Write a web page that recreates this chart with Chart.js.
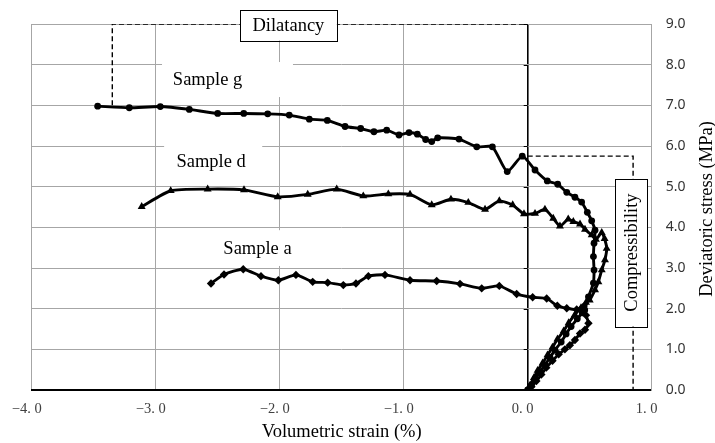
<!DOCTYPE html>
<html><head><meta charset="utf-8">
<script src="https://cdn.jsdelivr.net/npm/chart.js@4.4.1/dist/chart.umd.min.js"></script>
<style>html,body{margin:0;padding:0;background:#fff}</style>
</head><body>
<canvas id="c" width="715" height="443"></canvas>
<script>
// ---- data ----
const xTickValues = [-4, -3, -2, -1, 0, 1];
const yTickValues = [0, 1, 2, 3, 4, 5, 6, 7, 8, 9];
const xAxisTitle = "Volumetric strain (%)";
const yAxisTitle = "Deviatoric stress (MPa)";
const seriesNames = ["Sample g", "Sample d", "Sample a"];

const sampleG_x = [0,0.03,0.06,0.10,0.14,0.18,0.22,0.27,0.31,0.35,0.40,0.44,0.46,0.49,0.53,0.535,0.53,0.535,0.543,0.516,0.481,0.435,0.381,0.315,0.242,0.158,0.059,-0.044,-0.165,-0.285,-0.411,-0.554,-0.726,-0.774,-0.823,-0.890,-0.957,-1.038,-1.137,-1.240,-1.347,-1.473,-1.616,-1.761,-1.923,-2.097,-2.290,-2.500,-2.729,-2.963,-3.213,-3.468];
const sampleG_y = [0,0.12,0.28,0.45,0.62,0.80,0.98,1.18,1.38,1.56,1.75,1.90,1.97,2.29,2.63,2.95,3.28,3.61,3.93,4.16,4.37,4.62,4.74,4.86,5.06,5.14,5.41,5.75,5.37,5.98,5.98,6.17,6.20,6.11,6.16,6.29,6.33,6.27,6.39,6.35,6.43,6.48,6.63,6.66,6.76,6.79,6.80,6.80,6.90,6.97,6.94,6.98];

const sampleD_x = [0,0.02,0.05,0.08,0.12,0.16,0.20,0.24,0.29,0.33,0.38,0.43,0.47,0.50,0.543,0.57,0.597,0.623,0.637,0.62,0.597,0.55,0.516,0.462,0.422,0.368,0.327,0.260,0.206,0.139,0.059,-0.030,-0.121,-0.229,-0.344,-0.479,-0.619,-0.774,-0.949,-1.124,-1.326,-1.540,-1.774,-2.016,-2.288,-2.581,-2.879,-3.113];
const sampleD_y = [0,0.12,0.30,0.48,0.66,0.86,1.05,1.25,1.45,1.65,1.85,2.02,2.15,2.21,2.46,2.66,2.95,3.20,3.48,3.72,3.87,3.70,3.81,3.95,4.08,4.14,4.20,4.03,4.22,4.44,4.34,4.33,4.55,4.65,4.44,4.61,4.69,4.55,4.81,4.82,4.77,4.94,4.81,4.75,4.92,4.94,4.90,4.51];

const sampleA_x = [0,0.03,0.07,0.11,0.15,0.20,0.25,0.30,0.34,0.381,0.422,0.462,0.49,0.47,0.449,0.395,0.315,0.239,0.153,0.040,-0.089,-0.229,-0.371,-0.546,-0.734,-0.949,-1.151,-1.285,-1.385,-1.487,-1.613,-1.734,-1.869,-2.011,-2.151,-2.294,-2.449,-2.554];
const sampleA_y = [0,0.08,0.22,0.38,0.55,0.72,0.88,1.00,1.10,1.23,1.39,1.48,1.64,1.84,2.05,1.98,2.01,2.07,2.25,2.28,2.36,2.56,2.50,2.61,2.68,2.70,2.83,2.80,2.62,2.58,2.64,2.66,2.83,2.70,2.80,2.97,2.84,2.62];

// dashed guide lines (annotation), in data units
const dilatancyGuide_x = [-3.35, -3.35, 0];
const dilatancyGuide_y = [7.0, 9.0, 9.0];
const compressGuide_x = [0, 0.85, 0.85];
const compressGuide_y = [5.75, 5.75, 0];

const zip = (xs, ys) => xs.map((x, i) => ({x, y: ys[i]}));

const SERIF = "'Liberation Serif', 'Times New Roman', serif";

const annot = {
  id: 'annot',
  beforeDatasetsDraw(chart) {
    const {ctx, scales: {x, y}} = chart;
    ctx.save();
    const labels = [
      {t: seriesNames[0], tx: -2.582, ty: 7.62, r: [-2.949, 8.065, -1.893, 7.204]},
      {t: seriesNames[1], tx: -2.553, ty: 5.61, r: [-2.932, 6.07, -2.141, 5.16]},
      {t: seriesNames[2], tx: -2.179, ty: 3.46, r: [-2.522, 3.93, -1.835, 3.05]},
    ];
    for (const l of labels) {
      const x0 = x.getPixelForValue(l.r[0]), y0 = y.getPixelForValue(l.r[1]);
      const x1 = x.getPixelForValue(l.r[2]), y1 = y.getPixelForValue(l.r[3]);
      ctx.fillStyle = '#fff';
      ctx.fillRect(x0, y0, x1 - x0, y1 - y0);
    }
    ctx.fillStyle = '#000';
    ctx.font = "18.5px " + SERIF;
    ctx.textAlign = 'center';
    ctx.textBaseline = 'middle';
    for (const l of labels) {
      ctx.fillText(l.t, x.getPixelForValue(l.tx), y.getPixelForValue(l.ty));
    }
    const x0p = x.getPixelForValue(0);
    ctx.strokeStyle = '#000';
    ctx.lineWidth = 1;
    for (const v of yTickValues) {
      const py = Math.round(y.getPixelForValue(v)) + 0.5;
      ctx.beginPath(); ctx.moveTo(x0p - 4, py); ctx.lineTo(x0p, py); ctx.stroke();
    }
    ctx.restore();
  },
  afterDatasetsDraw(chart) {
    const {ctx, scales: {x, y}} = chart;
    ctx.save();
    let cx = x.getPixelForValue(-1.93), cy = y.getPixelForValue(9.0) + 1;
    let w = 97, h = 31;
    ctx.fillStyle = '#fff';
    ctx.fillRect(cx - w/2, cy - h/2, w, h);
    ctx.strokeStyle = '#000'; ctx.lineWidth = 1;
    ctx.strokeRect(Math.round(cx - w/2) + 0.5, Math.round(cy - h/2) + 0.5, w, h);
    ctx.fillStyle = '#000';
    ctx.font = "18.5px " + SERIF;
    ctx.textAlign = 'center'; ctx.textBaseline = 'middle';
    ctx.fillText('Dilatancy', cx, cy + 1);
    cx = x.getPixelForValue(0.834); cy = y.getPixelForValue(3.38);
    w = 32; h = 148;
    ctx.fillStyle = '#fff';
    ctx.fillRect(cx - w/2, cy - h/2, w, h);
    ctx.strokeRect(Math.round(cx - w/2) + 0.5, Math.round(cy - h/2) + 0.5, w, h);
    ctx.translate(cx + 1, cy);
    ctx.rotate(-Math.PI / 2);
    ctx.fillStyle = '#000';
    ctx.fillText('Compressibility', 0, 0);
    ctx.restore();
  },
  afterDraw(chart) {
    const {ctx, chartArea} = chart;
    ctx.save();
    ctx.translate(707, (chartArea.top + chartArea.bottom) / 2 + 2);
    ctx.rotate(-Math.PI / 2);
    ctx.fillStyle = '#000';
    ctx.font = "18.5px " + SERIF;
    ctx.textAlign = 'center'; ctx.textBaseline = 'middle';
    ctx.fillText(yAxisTitle, 0, 0);
    ctx.restore();
  }
};

const lineCommon = {
  showLine: true, borderColor: '#000', backgroundColor: '#000',
  borderWidth: 2.9, tension: 0.2, pointBorderWidth: 0
};

new Chart(document.getElementById('c'), {
  type: 'scatter',
  data: {
    datasets: [
      Object.assign({label: seriesNames[0], data: zip(sampleG_x, sampleG_y), pointStyle: 'circle', pointRadius: 3.4}, lineCommon),
      Object.assign({label: seriesNames[1], data: zip(sampleD_x, sampleD_y), pointStyle: 'triangle', pointRadius: 4.6}, lineCommon),
      Object.assign({label: seriesNames[2], data: zip(sampleA_x, sampleA_y), pointStyle: 'rectRot', pointRadius: 4.2}, lineCommon),
      {label: 'dil', data: zip(dilatancyGuide_x, dilatancyGuide_y), showLine: true, borderColor: '#000', borderWidth: 1.4, borderDash: [5, 3], pointRadius: 0, tension: 0},
      {label: 'comp', data: zip(compressGuide_x, compressGuide_y), showLine: true, borderColor: '#000', borderWidth: 1.4, borderDash: [5, 3], pointRadius: 0, tension: 0}
    ]
  },
  options: {
    responsive: false,
    animation: false,
    devicePixelRatio: 1,
    layout: {padding: {left: 31.7, top: 24, right: 0, bottom: 0}},
    plugins: {legend: {display: false}, tooltip: {enabled: false}},
    scales: {
      x: {
        type: 'linear', min: -4, max: 1,
        afterFit(s) { s.height = 53; },
        afterBuildTicks(s) { s.ticks = xTickValues.map(v => ({value: v})); },
        ticks: {
          color: '#404040', padding: 10, labelOffset: -5, maxRotation: 0,
          font: {family: SERIF, size: 14.5},
          callback: v => (v < 0 ? '\u2212' : '') + Math.abs(v).toFixed(0) + '. 0'
        },
        grid: {
          drawTicks: false,
          color: c => (c.tick && c.tick.value === 0) ? '#000' : '#a6a6a6',
          lineWidth: c => (c.tick && c.tick.value === 0) ? 1.6 : 1
        },
        border: {color: '#000', width: 2},
        title: {display: true, text: xAxisTitle, color: '#000', font: {family: SERIF, size: 18.5}, padding: {top: 0, bottom: 0}}
      },
      y: {
        type: 'linear', position: 'right', min: 0, max: 9,
        afterFit(s) { s.width = 63.3; },
        afterBuildTicks(s) { s.ticks = yTickValues.map(v => ({value: v})); },
        ticks: {
          color: '#333333', padding: 14,
          font: {family: "'Noto Sans', 'Open Sans', sans-serif", size: 14},
          callback: v => v.toFixed(1)
        },
        grid: {drawTicks: false, color: '#a6a6a6', lineWidth: 1},
        border: {color: '#a6a6a6', width: 1}
      }
    }
  },
  plugins: [annot]
});
</script>
</body></html>
